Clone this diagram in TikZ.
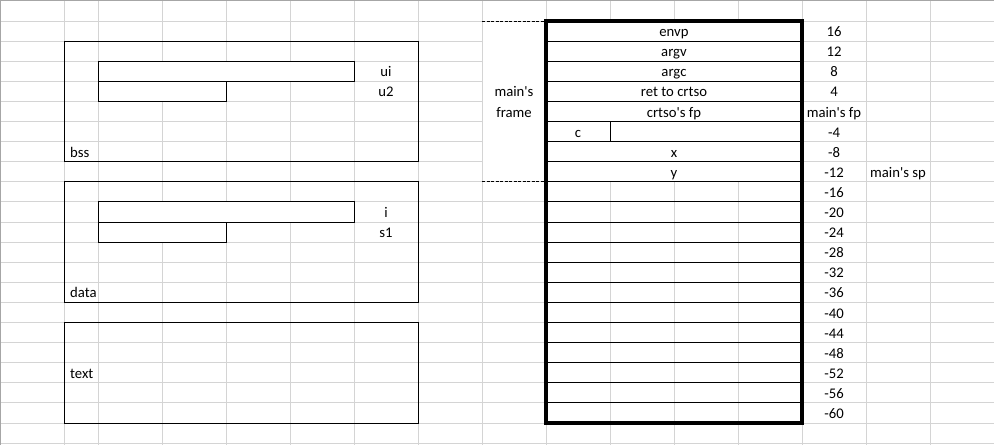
\documentclass[tikz,border=0pt]{standalone}
\usepackage{fontspec}
\setmainfont{Carlito}
\usepackage{tikz}
\usetikzlibrary{positioning}

\definecolor{gridgray}{HTML}{D4D4D4}
\definecolor{edgegray}{HTML}{A6A6A6}
\newcommand{\cellfont}{\fontsize{14.7}{17}\selectfont}
\newcommand{\apos}{\textquotesingle}

\tikzset{
  gridline/.style={draw=gridgray, line width=1pt},
  edgeline/.style={draw=edgegray, line width=1pt},
  cellline/.style={draw=black, line width=1pt},
  varbar/.style={draw=black, fill=white, line width=1pt},
  stackframe/.style={draw=black, line width=3.5pt},
  framedash/.style={draw=black, line width=1pt, dash pattern=on 3pt off 1.5pt},
  cell/.style={anchor=base, font=\cellfont, inner sep=0pt, yshift=4.5pt},
  cellleft/.style={cell, anchor=base west}
}

\begin{document}
\begin{tikzpicture}[x=1pt, y=-20.1pt, shift={(0pt,-21pt)}]
    \useasboundingbox (0,-1.0448) rectangle (994,21.094);
    % sheet grid
    \foreach \c in {64,98,162,226,...,930}
        \draw[gridline] (\c,-1.05) -- (\c,21.1);
    \foreach \r in {0,...,21}
        \draw[gridline] (0,\r) -- (994,\r);
    \draw[edgeline] (0.5,-1.05) -- (0.5,21.1);
    \draw[edgeline] (0,-1.02) -- (994,-1.02);
    % merged cells
    \fill[white] (483,0.03) rectangle (545.5,7.97);
    \fill[white] (546,0) rectangle (802,8);

    % bss segment
    \draw[cellline] (64,1) rectangle (418,7);
    \filldraw[varbar] (98,2) rectangle (354,3);
    \filldraw[varbar] (98,3) rectangle (226,4);
    \node[cell] (ui) at (386,3) {ui};
    \node[cell] (u2) at (386,4) {u2};
    \node[cellleft] (bss) at (70,7) {bss};

    % data segment
    \draw[cellline] (64,8) rectangle (418,14);
    \filldraw[varbar] (98,9) rectangle (354,10);
    \filldraw[varbar] (98,10) rectangle (226,11);
    \node[cell] (i) at (386,10) {i};
    \node[cell] (s1) at (386,11) {s1};
    \node[cellleft] (data) at (70,14) {data};

    % text segment
    \draw[cellline] (64,15) rectangle (418,20);
    \node[cellleft] (text) at (70,18) {text};

    % main's frame
    \draw[framedash] (482,0) -- (546,0);
    \draw[framedash] (482,8) -- (546,8);
    \node[cell] (mainlbl) at (514,4) {main\apos s};
    \node[cell] (framelbl) at (514,5) {frame};

    % stack
    \foreach \r in {1,...,19}
        \draw[cellline] (546,\r) -- (802,\r);
    \draw[cellline] (610,5) -- (610,6);
    \draw[stackframe] (546,0) rectangle (802,20);
    \foreach \lab [count=\k from 0] in {envp,argv,argc,ret to crtso,crtso\apos s fp}
        \node[cell] (slot\k) at (674,\k+1) {\lab};
    \node[cell] (c) at (578,6) {c};
    \node[cell] (x) at (674,7) {x};
    \node[cell] (y) at (674,8) {y};

    % offsets
    \foreach \off [count=\k from 0] in {16,12,8,4,main\apos s fp,-4,-8,-12,-16,-20,-24,-28,-32,-36,-40,-44,-48,-52,-56,-60}
        \node[cell] (off\k) at (834,\k+1) {\off};
    \node[cell] (sp) at (898,8) {main\apos s sp};
\end{tikzpicture}
\end{document}
